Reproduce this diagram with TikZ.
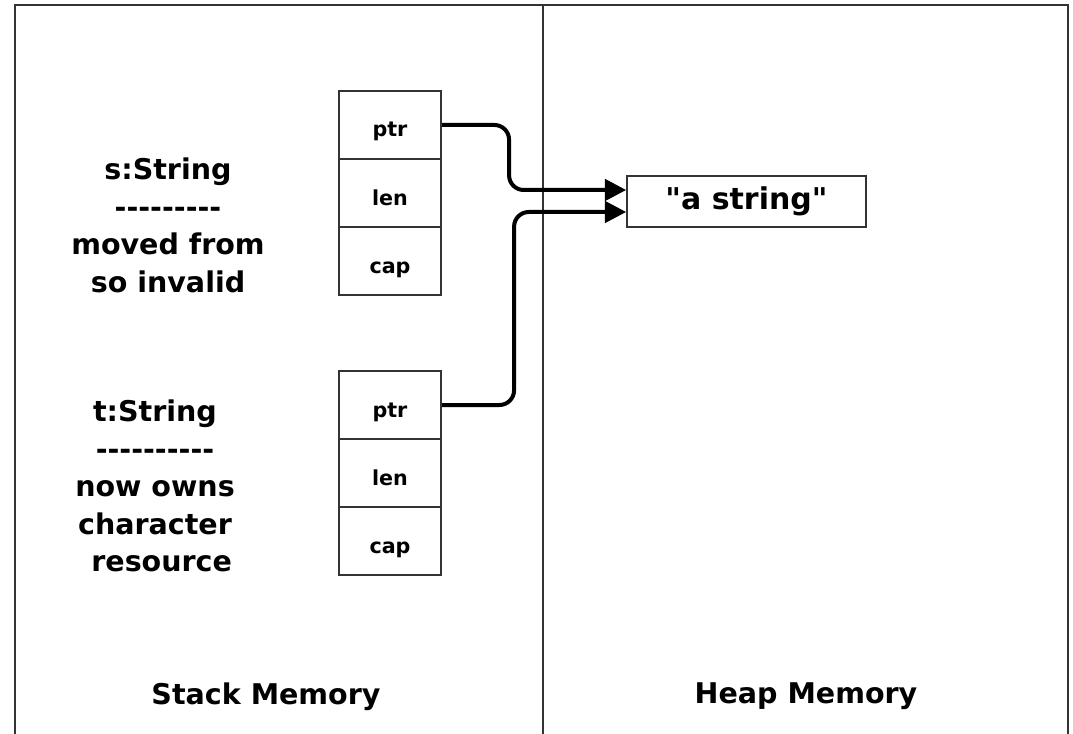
\documentclass[tikz,border=0pt]{standalone}
\usepackage{fontspec}
\setmainfont{DejaVu Sans}[Ligatures=TeXOff]
\usetikzlibrary{arrows.meta,calc}
\definecolor{framegray}{RGB}{51,51,51}

\begin{document}
\begin{tikzpicture}[x=0.75pt,y=0.75pt,yscale=-1,xscale=1,
  cell/.style={draw=framegray,line width=1.6pt,minimum width=76.5pt,minimum height=51pt,inner sep=0pt,text height=18pt,text depth=0pt,font=\fontsize{15.5}{18}\selectfont\bfseries},
  ptrarrow/.style={line width=3pt,rounded corners=11pt,-{Triangle[length=16pt,width=16pt]}},
  varlabel/.style={anchor=north,align=center,inner sep=0pt,font=\fontsize{21.4}{28.1}\selectfont\bfseries},
  title/.style={anchor=base,inner sep=0pt,font=\fontsize{21.4}{26}\selectfont\bfseries}]
\useasboundingbox (0,0) rectangle (1073,734);

%Shape: Frame
\draw [color=framegray,line width=1.5pt] (15,734) -- (15,5) -- (1068,5) -- (1068,734) ;
%Straight Lines
\draw [color=framegray,line width=1.5pt] (543,5) -- (543,734) ;

%Shape: Rectangle
\draw (390,125) node (sptr) [cell] {ptr};
%Shape: Rectangle
\draw (390,193) node (slen) [cell] {len};
%Shape: Rectangle
\draw (390,261) node (scap) [cell] {cap};
%Shape: Rectangle
\draw (390,405) node (tptr) [cell] {ptr};
%Shape: Rectangle
\draw (390,473) node (tlen) [cell] {len};
%Shape: Rectangle
\draw (390,541) node (tcap) [cell] {cap};
%Shape: Rectangle
\draw (746.5,201.5) node (heap) [draw=framegray,line width=1.5pt,minimum width=179pt,minimum height=38pt,inner sep=0pt,font=\fontsize{22.5}{27}\selectfont\bfseries] {"a string"};

%Curve Lines
\draw [ptrarrow] (sptr.east) -- ++(67,0) |- ($(heap.west)+(0,-11.5)$) ;
%Curve Lines
\draw [ptrarrow] (tptr.east) -- ++(72,0) |- ($(heap.west)+(0,10.5)$) ;

% Text Node
\draw (168,158) node (slabel) [varlabel] {s:String\\---------\\moved from\\so invalid};
% Text Node
\draw (155,400) node (tlabel) [varlabel] {t:String\\----------\\now owns\\character\\\hspace{10pt}resource};
% Text Node
\draw (266,704) node (stacktitle) [title] {Stack Memory};
% Text Node
\draw (806,703) node (heaptitle) [title] {Heap Memory};

\end{tikzpicture}
\end{document}
